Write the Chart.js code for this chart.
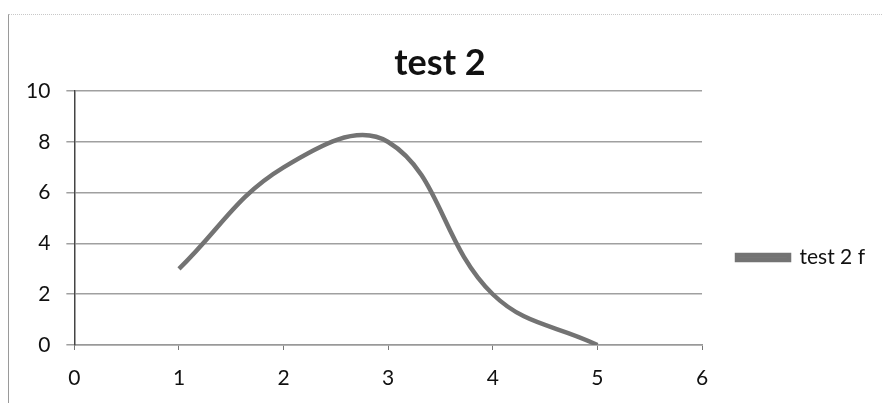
<!DOCTYPE html>
<html>
<head>
<meta charset="utf-8">
<script src="https://cdn.jsdelivr.net/npm/chart.js@4.4.0/dist/chart.umd.min.js"></script>
<style>
  html, body { margin: 0; padding: 0; background: #fff; }
  #wrap { position: relative; width: 882px; height: 403px; }
  #frame { position: absolute; left: 8px; top: 14px; width: 874px; height: 389px;
           border-left: 1px solid #9a9a9a; border-top: 1px dotted #c8c8c8; box-sizing: border-box; }
  canvas { display: block; }
</style>
</head>
<body>
<div id="wrap">
  <div id="frame"></div>
  <canvas id="testChart" width="882" height="403"></canvas>
</div>
<script>
// values
const xValues = [1, 2, 3, 4, 5];
const yValues = [3, 7, 8, 2, 0];
const seriesName = 'test 2 f';
const chartTitle = 'test 2';

const points = xValues.map((x, i) => ({ x: x, y: yValues[i] }));

// the legend in the original sits lower (and a bit further right) than Chart.js puts it
const legendShift = {
    id: 'legendShift',
    afterLayout(chart) {
        const lg = chart.legend;
        if (!lg) return;
        lg.top += 41;
        lg.bottom += 41;
        lg.left += 5;
        lg.right += 5;
    }
};

const ctx = document.getElementById('testChart').getContext('2d');

new Chart(ctx, {
    type: 'line',
    data: {
        datasets: [{
            label: seriesName,
            data: points,
            borderColor: '#737373',
            backgroundColor: '#7a7a7a',
            borderWidth: 4.5,
            pointRadius: 0,
            tension: 0.4,
            fill: false
        }]
    },
    options: {
        responsive: false,
        animation: false,
        layout: {
            padding: { left: 10, right: 12, top: 26, bottom: -4 }
        },
        scales: {
            x: {
                type: 'linear',
                min: 0,
                max: 6,
                ticks: {
                    stepSize: 1,
                    color: '#111',
                    font: { family: 'Lato', size: 21, lineHeight: 1 },
                    padding: 18
                },
                grid: {
                    drawOnChartArea: false,
                    drawTicks: true,
                    tickLength: 5,
                    color: '#777'
                },
                border: { color: '#999', width: 1.5 }
            },
            y: {
                min: 0,
                max: 10,
                ticks: {
                    stepSize: 2,
                    color: '#111',
                    font: { family: 'Lato', size: 21 },
                    padding: 16
                },
                grid: {
                    color: '#a0a0a0',
                    lineWidth: 1.5,
                    tickLength: 8
                },
                border: { color: '#444', width: 1.5 }
            }
        },
        plugins: {
            title: {
                display: true,
                text: chartTitle,
                color: '#111',
                font: { family: 'Lato', size: 36, weight: 'bold' },
                padding: { top: 16, bottom: 6 }
            },
            legend: {
                position: 'right',
                labels: {
                    boxWidth: 52,
                    boxHeight: 5,
                    color: '#111',
                    font: { family: 'Lato', size: 21 },
                    padding: 30
                }
            },
            tooltip: { enabled: false }
        }
    },
    plugins: [legendShift]
});
</script>
</body>
</html>
